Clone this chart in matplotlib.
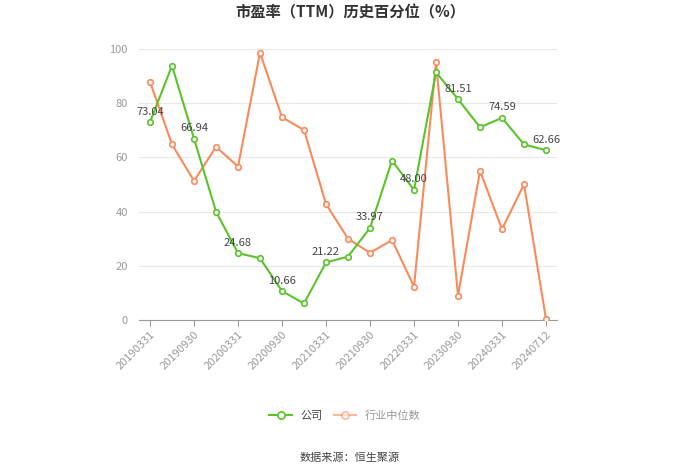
import matplotlib.pyplot as plt

plt.rcParams['font.family'] = ['Noto Sans CJK SC', 'DejaVu Sans']

dates = ["20190331", "20190630", "20190930", "20191231", "20200331", "20200630",
         "20200930", "20201231", "20210331", "20210630", "20210930", "20211231",
         "20220331", "20230331", "20230930", "20231231", "20240331", "20240630",
         "20240712"]
company = [73.04, 93.8, 66.94, 40.0, 24.68, 22.8, 10.66, 6.1, 21.22, 23.4,
           33.97, 58.8, 48.00, 91.4, 81.51, 71.1, 74.59, 64.8, 62.66]
industry = [87.9, 64.8, 51.3, 63.9, 56.6, 98.6, 74.8, 70.1, 42.8, 30.0,
            24.8, 29.5, 12.3, 95.1, 9.0, 55.0, 33.5, 50.1, 0.3]
labeled = [0, 2, 4, 6, 8, 10, 12, 14, 16, 18]

green = "#5bc22c"
orange = "#fa8a5c"

fig = plt.figure(figsize=(7, 4.74), dpi=100)
ax = fig.add_axes([139 / 700, 1 - 320 / 474, 418 / 700, 271 / 474])

x = list(range(len(dates)))
ax.plot(x, industry, color=orange, lw=1.5, marker="o", ms=4, mfc="white",
        mec=orange, mew=1.2, label="行业中位数", zorder=3)
ax.plot(x, company, color=green, lw=1.5, marker="o", ms=4, mfc="white",
        mec=green, mew=1.2, label="公司", zorder=4)

for i in labeled:
    ax.annotate(f"{company[i]:.2f}", (i, company[i]), xytext=(0, 4),
                textcoords="offset points", ha="center", va="bottom",
                fontsize=8, color="#444444", zorder=5)

ax.set_xlim(-0.5, len(dates) - 0.5)
ax.set_ylim(0, 100)
ax.set_yticks([0, 20, 40, 60, 80, 100])
ax.set_xticks(labeled)
ax.set_xticklabels([dates[i] for i in labeled], rotation=45, ha="right",
                   rotation_mode="anchor", fontsize=8, color="#999999")
ax.tick_params(axis="y", length=0, labelsize=8, labelcolor="#999999", pad=8)
ax.tick_params(axis="x", length=4, color="#999999", pad=3)
ax.grid(axis="y", color="#e8e8e8", lw=0.8)
ax.set_axisbelow(True)
for s in ["top", "right", "left"]:
    ax.spines[s].set_visible(False)
ax.spines["bottom"].set_color("#999999")

handles, labels = ax.get_legend_handles_labels()
leg = fig.legend(handles[::-1], labels[::-1], loc="center",
                 bbox_to_anchor=(345 / 700, 1 - 416 / 474), ncol=2, frameon=False,
                 fontsize=8, handlelength=2, columnspacing=1, markerscale=1.3,
                 labelcolor=["#444444", "#999999"])
leg.legend_handles[1].set_alpha(0.6)

fig.text(0.5, 1 - 12 / 474, "市盈率（TTM）历史百分位（%）", ha="center", va="center",
         fontsize=11, fontweight="bold", color="#333333")
fig.text(350 / 700, 1 - 458 / 474, "数据来源：恒生聚源", ha="center", va="center",
         fontsize=8, color="#444444")

fig.savefig("out.png", dpi=100)
